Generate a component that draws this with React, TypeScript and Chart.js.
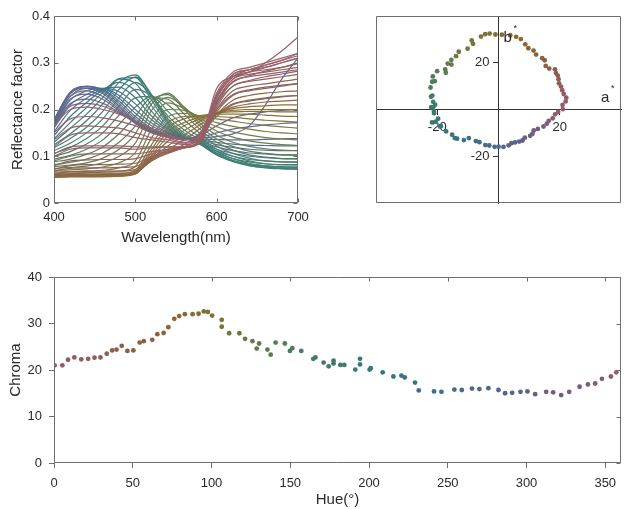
import React, { useEffect, useRef } from 'react';
import { Chart, registerables } from 'chart.js';

Chart.register(...registerables);

const FONT = "'Liberation Sans', Arial, Helvetica, sans-serif";
const TEXT = '#2a2a2a';
const FRAME = '#6e6e6e';
const AXIS = '#333333';

// ---------------- data ----------------
const wavelengthNm = [400, 420, 440, 460, 480, 500, 520, 540, 560, 580, 600, 620, 640, 660, 680, 700];
const wavelengthTicks = [400, 500, 600, 700];
const reflectanceTicks = [0, 0.1, 0.2, 0.3, 0.4];

// hue angle (deg) of each reflectance curve (gives its colour)
const spectraHue = [
  356, 2, 6, 11, 15, 19, 24, 29, 34, 40, 46, 52,
  58, 64, 70, 76, 82, 88, 94, 100, 106,
  113, 120, 127, 134, 141, 149, 157,
  165, 173, 181, 190, 199, 208, 217, 226,
  236, 247, 258, 269, 280, 291,
  301, 311, 321, 331, 341, 349,
];

// reflectance factor of each curve at wavelengthNm
const spectra: number[][] = [
  [.165, .2, .205, .2, .19, .175, .16, .145, .135, .15, .22, .265, .28, .29, .30, .31],
  [.15, .18, .185, .182, .175, .165, .15, .14, .13, .145, .225, .27, .285, .295, .305, .315],
  [.135, .16, .165, .163, .16, .15, .14, .135, .128, .14, .23, .275, .285, .295, .305, .32],
  [.12, .145, .15, .15, .148, .14, .135, .13, .125, .14, .235, .28, .29, .3, .31, .32],
  [.105, .12, .122, .122, .122, .12, .12, .12, .12, .135, .245, .27, .28, .3, .325, .355],
  [.1, .115, .118, .118, .118, .115, .118, .12, .12, .135, .23, .275, .285, .29, .3, .31],
  [.09, .1, .105, .105, .105, .105, .11, .115, .12, .135, .225, .27, .28, .285, .29, .3],
  [.08, .09, .092, .093, .093, .095, .105, .115, .12, .132, .215, .265, .275, .28, .285, .29],
  [.072, .08, .082, .082, .083, .085, .1, .112, .118, .13, .21, .26, .27, .275, .28, .285],
  [.068, .074, .075, .075, .076, .078, .098, .11, .118, .13, .205, .25, .26, .265, .27, .275],
  [.063, .067, .068, .068, .068, .072, .095, .108, .118, .132, .2, .24, .25, .255, .26, .265],
  [.06, .063, .064, .064, .064, .068, .092, .106, .12, .14, .195, .23, .24, .245, .25, .255],
  [.058, .06, .061, .061, .061, .065, .09, .108, .125, .15, .19, .22, .23, .235, .238, .24],
  [.057, .059, .06, .06, .06, .064, .092, .115, .135, .16, .19, .212, .22, .225, .228, .23],
  [.056, .058, .058, .058, .059, .063, .095, .122, .145, .168, .19, .205, .212, .216, .218, .22],
  [.055, .057, .057, .057, .058, .062, .098, .132, .155, .175, .193, .202, .206, .208, .21, .21],
  [.055, .056, .056, .056, .057, .062, .102, .142, .165, .18, .193, .198, .2, .2, .2, .2],
  [.056, .057, .057, .057, .058, .064, .108, .152, .172, .184, .192, .195, .196, .196, .195, .195],
  [.058, .059, .059, .059, .06, .066, .115, .162, .18, .187, .19, .19, .19, .188, .186, .185],
  [.06, .061, .061, .062, .063, .07, .125, .172, .185, .186, .185, .183, .18, .177, .175, .173],
  [.063, .064, .065, .066, .068, .078, .14, .185, .192, .186, .18, .175, .17, .166, .163, .16],
  [.066, .067, .068, .07, .075, .09, .158, .2, .198, .184, .172, .164, .158, .153, .15, .148],
  [.07, .071, .073, .077, .086, .108, .178, .214, .202, .18, .163, .152, .145, .14, .137, .135],
  [.074, .076, .079, .086, .1, .128, .198, .226, .205, .176, .154, .141, .133, .128, .125, .123],
  [.078, .081, .086, .096, .115, .148, .212, .235, .205, .17, .145, .13, .121, .116, .113, .112],
  [.082, .087, .094, .107, .13, .165, .22, .232, .2, .164, .137, .121, .111, .106, .103, .102],
  [.088, .094, .104, .12, .148, .185, .225, .222, .19, .157, .13, .113, .103, .098, .095, .094],
  [.094, .102, .115, .135, .168, .205, .228, .21, .178, .148, .122, .106, .096, .09, .088, .087],
  [.1, .11, .126, .15, .188, .225, .228, .196, .165, .14, .115, .1, .09, .084, .082, .081],
  [.106, .119, .138, .165, .207, .243, .228, .186, .156, .134, .11, .095, .085, .08, .078, .077],
  [.112, .128, .15, .18, .225, .258, .23, .18, .15, .13, .106, .091, .082, .077, .075, .074],
  [.118, .138, .162, .196, .243, .27, .232, .176, .146, .127, .104, .089, .08, .075, .073, .072],
  [.124, .148, .176, .212, .258, .274, .228, .172, .143, .125, .103, .089, .08, .076, .074, .073],
  [.13, .16, .19, .226, .266, .268, .22, .168, .141, .125, .104, .091, .083, .079, .077, .076],
  [.137, .172, .204, .236, .265, .256, .208, .164, .14, .126, .107, .095, .088, .084, .082, .082],
  [.144, .185, .215, .242, .258, .24, .196, .16, .14, .128, .111, .1, .093, .09, .088, .088],
  [.152, .198, .224, .244, .248, .225, .186, .157, .14, .13, .115, .106, .1, .097, .095, .095],
  [.16, .21, .232, .245, .238, .212, .178, .154, .14, .132, .12, .112, .107, .105, .103, .103],
  [.166, .22, .24, .245, .23, .2, .171, .151, .14, .134, .125, .119, .115, .113, .112, .112],
  [.172, .228, .245, .244, .224, .192, .165, .149, .139, .135, .13, .126, .124, .123, .122, .122],
  [.176, .234, .249, .243, .218, .185, .16, .147, .139, .137, .136, .135, .135, .136, .137, .138],
  [.178, .237, .25, .241, .213, .18, .157, .145, .139, .139, .142, .148, .165, .21, .265, .31],
  [.178, .237, .249, .238, .208, .176, .154, .143, .138, .141, .15, .158, .163, .167, .17, .172],
  [.176, .234, .246, .234, .204, .173, .152, .142, .137, .145, .165, .182, .19, .195, .198, .2],
  [.173, .228, .24, .228, .2, .171, .151, .141, .136, .148, .185, .21, .218, .223, .227, .23],
  [.17, .222, .233, .222, .197, .17, .151, .141, .135, .15, .2, .232, .242, .248, .252, .256],
  [.168, .213, .222, .213, .194, .172, .154, .143, .135, .15, .212, .25, .262, .27, .276, .282],
  [.166, .207, .213, .207, .192, .174, .157, .144, .135, .15, .218, .258, .272, .282, .29, .298],
];

// colour samples: hue angle (deg) and chroma
const sampleHue = [
  0.4, 5.3, 8.9, 12.9, 17.3, 21.7, 25.7, 29.5, 33.5, 36.9, 39.7, 43.0, 46.6, 50.4, 54.4, 57.0,
  62.4, 65.6, 69.6, 72.6, 76.4, 79.5, 83.1, 88.0, 91.8, 95.1, 97.7, 100.4, 106.5, 106.5, 111.2,
  117.7, 121.3, 126.0, 128.7, 130.2, 135.5, 137.6, 140.7, 146.6, 149.8, 151.3, 157.0, 164.6, 166.0,
  171.2, 174.4, 177.5, 177.5, 181.8, 184.3, 191.3, 194.3, 194.3, 200.4, 201.1, 208.7, 215.5, 220.6,
  222.7, 229.2, 231.6, 241.3, 246.0, 254.2, 258.9, 265.4, 270.1, 275.8, 282.2, 286.4, 290.9, 296.2,
  300.6, 305.5, 312.5, 316.9, 322.0, 327.1, 333.7, 339.0, 343.6, 347.9, 353.6, 357.0,
];
const sampleChroma = [
  21.0, 21.0, 22.2, 22.7, 22.3, 22.4, 22.65, 22.7, 23.5, 24.2, 24.4, 25.2, 24.1, 24.2, 25.9, 26.2,
  26.5, 27.7, 27.96, 29.2, 31.0, 31.6, 32.0, 32.0, 32.1, 32.6, 32.5, 31.7, 30.8, 29.3, 27.9,
  27.9, 26.7, 26.2, 24.6, 25.7, 24.4, 23.3, 25.9, 25.7, 24.1, 24.7, 24.1, 22.4, 22.7,
  21.6, 20.8, 22.0, 21.4, 21.1, 21.1, 20.1, 22.4, 21.2, 20.1, 20.4, 19.5, 18.6, 18.8,
  18.4, 17.3, 15.6, 15.4, 15.3, 15.8, 15.7, 16.0, 15.9, 16.1, 15.7, 15.0, 15.1, 15.3,
  15.4, 14.8, 15.3, 15.2, 14.6, 15.3, 16.4, 16.9, 17.1, 18.1, 18.6, 19.5,
];
const abTicks = [-20, 20];
const hueTicks = [0, 50, 100, 150, 200, 250, 300, 350];
const chromaTicks = [0, 10, 20, 30, 40];

// ---------------- style helpers ----------------
const paletteHue = [0, 30, 55, 80, 100, 125, 155, 185, 215, 245, 275, 305, 335, 360];
const paletteColor = ['#985a6a', '#925c58', '#8c6040', '#8a6a32', '#7e7234', '#687a48', '#4a7c60',
  '#387c70', '#357680', '#436c8a', '#526690', '#655f8a', '#7c5a80', '#985a6a'];

function hexRgb(h: string): number[] {
  return [1, 3, 5].map((i) => parseInt(h.slice(i, i + 2), 16));
}
function colorForHue(h: number, lighten = 0): string {
  let i = 0;
  while (i < paletteHue.length - 2 && h > paletteHue[i + 1]) i++;
  const t = Math.min(1, Math.max(0, (h - paletteHue[i]) / (paletteHue[i + 1] - paletteHue[i])));
  const a = hexRgb(paletteColor[i]);
  const b = hexRgb(paletteColor[i + 1]);
  const c = a.map((v, k) => v + (b[k] - v) * t).map((v) => v + (255 - v) * lighten);
  return `rgb(${c.map((v) => Math.round(v)).join(',')})`;
}

type Side = 'top' | 'bottom' | 'left' | 'right';
function framePlugin(inward: Side[], len = 4) {
  return {
    id: 'frameBox',
    afterDatasetsDraw(chart: any) {
      const { ctx, chartArea } = chart;
      const L = Math.round(chartArea.left) + 0.5;
      const R = Math.round(chartArea.right) - 0.5;
      const T = Math.round(chartArea.top) + 0.5;
      const B = Math.round(chartArea.bottom) - 0.5;
      ctx.save();
      ctx.strokeStyle = FRAME;
      ctx.lineWidth = 1;
      ctx.beginPath();
      ctx.rect(L, T, R - L, B - T);
      const xs = chart.scales.x;
      const ys = chart.scales.y;
      for (const t of xs.ticks) {
        const px = Math.round(xs.getPixelForValue(t.value)) + 0.5;
        if (inward.includes('top')) { ctx.moveTo(px, T); ctx.lineTo(px, T + len); }
        if (inward.includes('bottom')) { ctx.moveTo(px, B); ctx.lineTo(px, B - len); }
      }
      for (const t of ys.ticks) {
        const py = Math.round(ys.getPixelForValue(t.value)) + 0.5;
        if (inward.includes('left')) { ctx.moveTo(L, py); ctx.lineTo(L + len, py); }
        if (inward.includes('right')) { ctx.moveTo(R, py); ctx.lineTo(R - len, py); }
      }
      ctx.stroke();
      ctx.restore();
    },
  };
}

// axis names and y tick labels of the centred a*b* axes
const abLabelPlugin = {
  id: 'abLabels',
  afterDatasetsDraw(chart: any) {
    const { ctx, chartArea } = chart;
    const xs = chart.scales.x;
    const ys = chart.scales.y;
    const x0 = xs.getPixelForValue(0);
    const y0 = ys.getPixelForValue(0);
    ctx.save();
    ctx.fillStyle = TEXT;
    ctx.font = `13px ${FONT}`;
    ctx.textAlign = 'right';
    ctx.textBaseline = 'middle';
    for (const t of ys.ticks) {
      ctx.fillText(String(t.value), x0 - 9, ys.getPixelForValue(t.value));
    }
    ctx.textBaseline = 'alphabetic';
    ctx.textAlign = 'left';
    ctx.font = `15px ${FONT}`;
    ctx.fillText('b', x0 + 5, chartArea.top + 26);
    ctx.fillText('a', chartArea.right - 20, y0 - 8);
    ctx.font = `9px ${FONT}`;
    ctx.fillText('*', x0 + 15, chartArea.top + 15);
    ctx.fillText('*', chartArea.right - 10, y0 - 19);
    ctx.restore();
  },
};

const tickFont = { family: FONT, size: 13 };
const titleFont = { family: FONT, size: 15 };
const fixedTicks = (vals: number[]) => (s: any) => { s.ticks = vals.map((v) => ({ value: v })); };

// ---------------- chart configs ----------------
function makeSpectra(): any {
  return {
    type: 'line',
    data: {
      datasets: spectra.map((vals, i) => ({
        data: vals.map((v, j) => ({ x: wavelengthNm[j], y: v })),
        borderColor: colorForHue(spectraHue[i], 0.03),
        borderWidth: 1.2,
        pointRadius: 0,
        fill: false,
        cubicInterpolationMode: 'monotone',
      })),
    },
    options: {
      responsive: false, animation: false, devicePixelRatio: 1, events: [],
      layout: { padding: { left: 0, right: 18, top: 16, bottom: 0 } },
      plugins: { legend: { display: false }, tooltip: { enabled: false } },
      scales: {
        x: {
          type: 'linear', min: 400, max: 700,
          afterFit: (s: any) => { s.height = 47; },
          afterBuildTicks: fixedTicks(wavelengthTicks),
          grid: { display: false, drawTicks: false }, border: { display: false },
          ticks: { padding: 7, color: TEXT, font: tickFont, maxRotation: 0, autoSkip: false, callback: (v: any) => String(v) },
          title: { display: true, text: 'Wavelength(nm)', color: TEXT, font: titleFont, padding: { top: 0, bottom: 3 } },
        },
        y: {
          type: 'linear', min: 0, max: 0.4,
          afterFit: (s: any) => { s.width = 54; },
          afterBuildTicks: fixedTicks(reflectanceTicks),
          grid: { display: false, drawTicks: false }, border: { display: false },
          ticks: { padding: 4, color: TEXT, font: tickFont, autoSkip: false, callback: (v: any) => String(v) },
          title: { display: true, text: 'Reflectance factor', color: TEXT, font: titleFont, padding: { top: 9, bottom: 0 } },
        },
      },
    },
    plugins: [framePlugin(['top', 'bottom', 'left', 'right'])],
  };
}

function makeAB(): any {
  return {
    type: 'scatter',
    data: {
      datasets: [{
        data: sampleHue.map((h, i) => ({
          x: sampleChroma[i] * Math.cos((h * Math.PI) / 180),
          y: sampleChroma[i] * Math.sin((h * Math.PI) / 180),
        })),
        pointBackgroundColor: sampleHue.map((h) => colorForHue(h)),
        pointBorderWidth: 0,
        pointRadius: 2.4,
      }],
    },
    options: {
      responsive: false, animation: false, devicePixelRatio: 1, events: [],
      layout: { padding: { left: 16, right: 4, top: 16, bottom: 47 } },
      plugins: { legend: { display: false }, tooltip: { enabled: false } },
      scales: {
        x: {
          type: 'linear', min: -40, max: 40, position: { y: 0 },
          afterBuildTicks: fixedTicks(abTicks),
          grid: { drawOnChartArea: false, drawTicks: true, tickLength: 5, color: AXIS },
          border: { display: true, color: AXIS, width: 1 },
          ticks: { padding: 5, color: TEXT, font: tickFont, maxRotation: 0, autoSkip: false, callback: (v: any) => String(v) },
        },
        y: {
          type: 'linear', min: -40, max: 40, position: { x: 0 },
          afterBuildTicks: fixedTicks(abTicks),
          grid: { drawOnChartArea: false, drawTicks: true, tickLength: 5, color: AXIS },
          border: { display: true, color: AXIS, width: 1 },
          ticks: { display: false },
        },
      },
    },
    plugins: [framePlugin([]), abLabelPlugin],
  };
}

function makeHueChroma(): any {
  return {
    type: 'scatter',
    data: {
      datasets: [{
        data: sampleHue.map((h, i) => ({ x: h, y: sampleChroma[i] })),
        pointBackgroundColor: sampleHue.map((h) => colorForHue(h)),
        pointBorderWidth: 0,
        pointRadius: 2.4,
      }],
    },
    options: {
      responsive: false, animation: false, devicePixelRatio: 1, events: [],
      layout: { padding: { left: 0, right: 3, top: 22, bottom: 0 } },
      plugins: { legend: { display: false }, tooltip: { enabled: false } },
      scales: {
        x: {
          type: 'linear', min: 0, max: 360,
          afterFit: (s: any) => { s.height = 46; },
          afterBuildTicks: fixedTicks(hueTicks),
          grid: { drawOnChartArea: false, drawTicks: true, tickLength: 5, color: FRAME },
          border: { display: false },
          ticks: { padding: 8, color: TEXT, font: tickFont, maxRotation: 0, autoSkip: false, callback: (v: any) => String(v) },
          title: { display: true, text: 'Hue(°)', color: TEXT, font: titleFont, padding: { top: 0, bottom: 0 } },
        },
        y: {
          type: 'linear', min: 0, max: 40,
          afterFit: (s: any) => { s.width = 54; },
          afterBuildTicks: fixedTicks(chromaTicks),
          grid: { drawOnChartArea: false, drawTicks: true, tickLength: 5, color: FRAME },
          border: { display: false },
          ticks: { padding: 7, color: TEXT, font: tickFont, autoSkip: false, callback: (v: any) => String(v) },
          title: { display: true, text: 'Chroma', color: TEXT, font: titleFont, padding: { top: 7, bottom: 0 } },
        },
      },
    },
    plugins: [framePlugin(['top', 'right'])],
  };
}

function ChartCanvas(props: { make: () => any; left: number; top: number; width: number; height: number }) {
  const { make, left, top, width, height } = props;
  const ref = useRef<HTMLCanvasElement | null>(null);
  useEffect(() => {
    if (!ref.current) return;
    const chart = new Chart(ref.current, make());
    return () => chart.destroy();
  }, [make]);
  return (
    <canvas
      ref={ref}
      width={width}
      height={height}
      style={{ position: 'absolute', left, top, width, height, display: 'block' }}
    />
  );
}

export default function App() {
  return (
    <div style={{ position: 'absolute', left: 0, top: 0, width: 625, height: 509, background: '#ffffff', overflow: 'hidden' }}>
      <ChartCanvas make={makeSpectra} left={0} top={0} width={316} height={250} />
      <ChartCanvas make={makeAB} left={360} top={0} width={265} height={250} />
      <ChartCanvas make={makeHueChroma} left={0} top={255} width={625} height={254} />
    </div>
  );
}
